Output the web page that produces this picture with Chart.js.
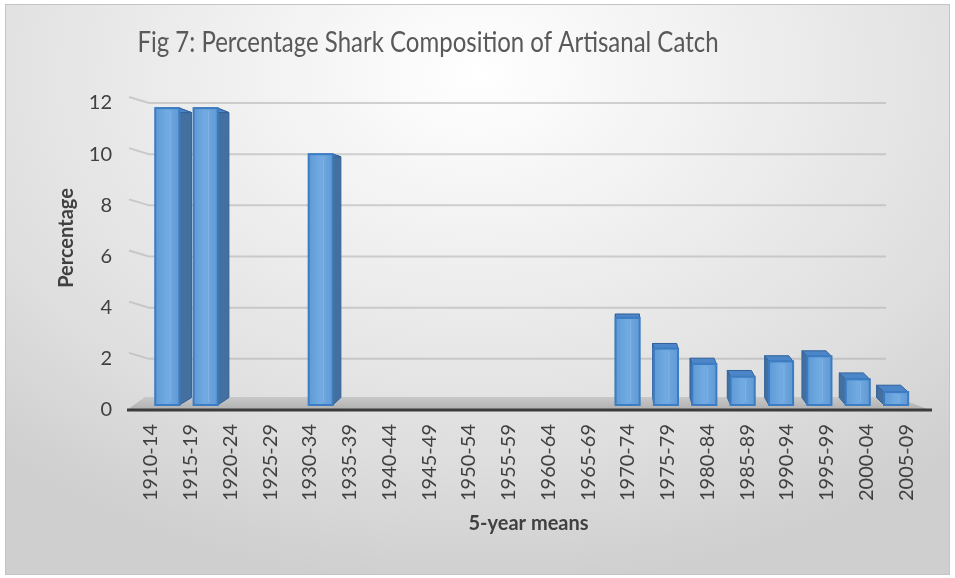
<!DOCTYPE html>
<html>
<head>
<meta charset="utf-8">
<script src="https://cdn.jsdelivr.net/npm/chart.js@4/dist/chart.umd.min.js"></script>
<style>
  html, body { margin: 0; padding: 0; background: #fff; }
  #frame {
    position: absolute; left: 5px; top: 4px; width: 943px; height: 569px;
    border: 1px solid #c4c4c4;
    background: radial-gradient(ellipse 75% 90% at 50% 12%, #ffffff 0%, #f0f0f0 35%, #dedede 75%, #cfcfcf 100%);
  }
  #chart { position: absolute; left: 0; top: 0; }
</style>
</head>
<body>
<div id="frame"></div>
<canvas id="chart" width="955" height="578"></canvas>
<script>
const periods = [
  '1910-14', '1915-19', '1920-24', '1925-29', '1930-34', '1935-39', '1940-44',
  '1945-49', '1950-54', '1955-59', '1960-64', '1965-69', '1970-74', '1975-79',
  '1980-84', '1985-89', '1990-94', '1995-99', '2000-04', '2005-09'
];
const sharkPercent = [11.8, 11.8, 0, 0, 10.0, 0, 0, 0, 0, 0, 0, 0, 3.6, 2.4, 1.8, 1.3, 1.9, 2.1, 1.2, 0.7];
const yTicks = [0, 2, 4, 6, 8, 10, 12];

const titleText = 'Fig 7: Percentage Shark Composition of Artisanal Catch';
const yTitle = 'Percentage';
const fontFamily = 'Lato, "Open Sans", sans-serif';

// perspective used for the fake 3d columns
const vanishX = 620, eyeY = 220, squeeze = 0.965;

function drawColumn(ctx, x, y, base, width) {
  const cx = vanishX + (x - vanishX) * squeeze;
  const w = width * squeeze;
  const left = cx - w / 2, right = cx + w / 2;
  const top = y, bottom = base - 5;
  const dx = (vanishX - cx) * 0.027;
  const dyTop = (eyeY - top) * 0.04;
  const dyBase = (eyeY - bottom) * 0.04;
  const edge = dx >= 0 ? right : left;

  ctx.lineWidth = 1;
  ctx.strokeStyle = '#2f6199';
  // side face
  ctx.fillStyle = '#44709f';
  ctx.beginPath();
  ctx.moveTo(edge, top);
  ctx.lineTo(edge + dx, top + dyTop);
  ctx.lineTo(edge + dx, bottom + dyBase);
  ctx.lineTo(edge, bottom);
  ctx.closePath();
  ctx.fill();
  ctx.stroke();
  // top face
  ctx.fillStyle = '#4d86c8';
  ctx.beginPath();
  ctx.moveTo(left, top);
  ctx.lineTo(right, top);
  ctx.lineTo(right + dx, top + dyTop);
  ctx.lineTo(left + dx, top + dyTop);
  ctx.closePath();
  ctx.fill();
  ctx.stroke();
  // front face
  const g = ctx.createLinearGradient(left, 0, right, 0);
  g.addColorStop(0, '#5f9ad6');
  g.addColorStop(0.5, '#72abe2');
  g.addColorStop(1, '#6199d3');
  ctx.fillStyle = g;
  ctx.fillRect(left, top, w, bottom - top);
  ctx.strokeStyle = 'rgba(140,190,235,0.6)';
  ctx.beginPath();
  ctx.moveTo(left + w * 0.62, top + 3);
  ctx.lineTo(left + w * 0.62, bottom - 3);
  ctx.stroke();
  ctx.lineWidth = 2;
  ctx.strokeStyle = '#3b7cc2';
  ctx.strokeRect(left, top, w, bottom - top);
}

const columns3d = {
  id: 'columns3d',
  beforeDatasetsDraw(chart) {
    const ctx = chart.ctx;
    const area = chart.chartArea;
    const yScale = chart.scales.y;
    ctx.save();
    // back wall grid lines
    ctx.strokeStyle = 'rgba(175,175,175,0.55)';
    ctx.lineWidth = 2;
    yTicks.slice(1).forEach(v => {
      const py = yScale.getPixelForValue(v);
      ctx.beginPath();
      ctx.moveTo(area.left - 2, py - 6);
      ctx.lineTo(area.left + 18, py);
      ctx.lineTo(area.right - 40, py);
      ctx.stroke();
    });
    // floor
    const g = ctx.createLinearGradient(0, area.bottom - 13, 0, area.bottom);
    g.addColorStop(0, '#c8c8c8');
    g.addColorStop(1, '#b0b0b0');
    ctx.fillStyle = g;
    ctx.beginPath();
    ctx.moveTo(area.left + 14, area.bottom - 13);
    ctx.lineTo(area.right - 30, area.bottom - 13);
    ctx.lineTo(area.right + 4, area.bottom);
    ctx.lineTo(area.left - 4, area.bottom);
    ctx.closePath();
    ctx.fill();

    const bars = chart.getDatasetMeta(0).data
      .map((bar, i) => ({ i, props: bar.getProps(['x', 'y', 'base', 'width'], true) }))
      .filter(b => sharkPercent[b.i])
      .sort((a, b) => Math.abs(b.props.x - vanishX) - Math.abs(a.props.x - vanishX));
    bars.forEach(b => drawColumn(ctx, b.props.x, b.props.y, b.props.base, b.props.width));
    ctx.restore();
  },
  afterDraw(chart) {
    const ctx = chart.ctx;
    const area = chart.chartArea;
    const yScale = chart.scales.y;
    ctx.save();
    ctx.strokeStyle = '#3c3c3c';
    ctx.lineWidth = 3;
    ctx.beginPath();
    ctx.moveTo(area.left - 4, area.bottom);
    ctx.lineTo(area.right + 6, area.bottom);
    ctx.stroke();

    // chart title, narrowed to mimic Calibri Light
    ctx.fillStyle = '#595959';
    ctx.font = '28px ' + fontFamily;
    ctx.textAlign = 'center';
    ctx.textBaseline = 'middle';
    ctx.translate(428, 43);
    ctx.scale(0.857, 1);
    ctx.fillText(titleText, 0, 0);
    ctx.setTransform(1, 0, 0, 1, 0, 0);

    // y axis title
    ctx.fillStyle = '#404040';
    ctx.font = 'bold 20px ' + fontFamily;
    ctx.translate(67, 238);
    ctx.rotate(-Math.PI / 2);
    ctx.fillText(yTitle, 0, 0);
    ctx.restore();
  }
};

new Chart(document.getElementById('chart'), {
  type: 'bar',
  data: {
    labels: periods,
    datasets: [{
      data: sharkPercent,
      backgroundColor: 'rgba(0,0,0,0)',
      borderWidth: 0,
      barThickness: 25
    }]
  },
  options: {
    responsive: false,
    animation: false,
    layout: { padding: { top: 103, left: 0, right: 29, bottom: 0 } },
    plugins: {
      legend: { display: false },
      tooltip: { enabled: false },
      title: { display: false }
    },
    scales: {
      x: {
        grid: { display: false, drawTicks: false },
        border: { display: false },
        ticks: {
          color: '#404040',
          font: { family: fontFamily, size: 20 },
          minRotation: 90,
          maxRotation: 90,
          padding: 14,
          autoSkip: false
        },
        title: {
          display: true,
          text: '5-year means',
          color: '#404040',
          font: { family: fontFamily, size: 20, weight: 'bold' },
          padding: { top: 0, bottom: 42 }
        },
        afterFit(scale) { scale.height = 168; }
      },
      y: {
        min: yTicks[0],
        max: yTicks[yTicks.length - 1],
        afterBuildTicks(scale) { scale.ticks = yTicks.map(v => ({ value: v })); },
        grid: { display: false, drawTicks: false },
        border: { display: false },
        ticks: {
          color: '#404040',
          font: { family: fontFamily, size: 20 },
          padding: 19
        },
        afterFit(scale) { scale.width = 131; }
      }
    }
  },
  plugins: [columns3d]
});
</script>
</body>
</html>
